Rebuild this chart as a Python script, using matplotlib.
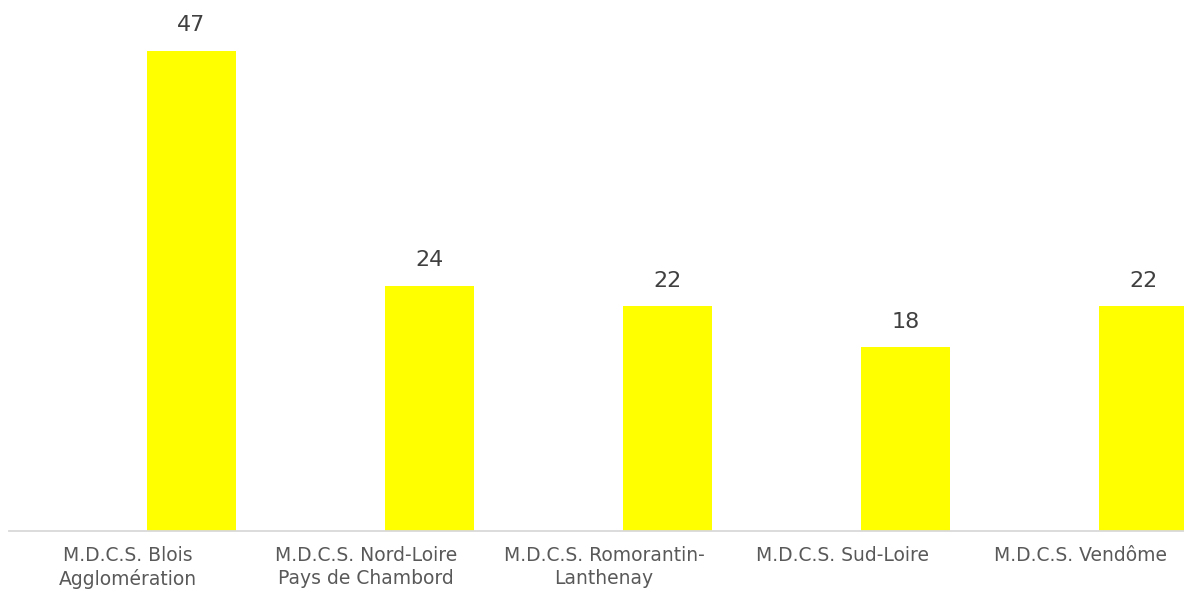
import textwrap
import matplotlib
matplotlib.use("Agg")
import matplotlib.pyplot as plt

categories = ["M.D.C.S. Blois Agglomération",
              "M.D.C.S. Nord-Loire Pays de Chambord",
              "M.D.C.S. Romorantin-Lanthenay",
              "M.D.C.S. Sud-Loire",
              "M.D.C.S. Vendôme"]
values = [47, 24, 22, 18, 22]

plt.rcParams['font.family'] = ['DejaVu Sans']

fig = plt.figure(figsize=(11.84, 5.89), dpi=100)
# plot area runs past the right edge of the picture, as in the original
ax = fig.add_axes([9 / 1184, 58 / 589, 1190 / 1184, 511 / 589])

x = list(range(len(categories)))
bar_x = [i + 0.267 for i in x]
bars = ax.bar(bar_x, values, width=0.374, color="#FFFF00", zorder=2)

for b, v in zip(bars, values):
    ax.annotate(str(v), (b.get_x() + b.get_width() / 2, b.get_height()),
                xytext=(0, 11), textcoords="offset points",
                ha="center", va="bottom", fontsize=16, color="#404040")

ax.set_xlim(-0.5, 4.5)
ax.set_ylim(0, 50)
ax.set_xticks(x)
ax.set_xticklabels([textwrap.fill(c, 20) for c in categories],
                   fontsize=13.5, color="#595959", linespacing=1.25)
ax.tick_params(axis="x", length=0, pad=11)
ax.set_yticks([])

for side in ["top", "right", "left"]:
    ax.spines[side].set_visible(False)
ax.spines["bottom"].set_color("#D9D9D9")
ax.spines["bottom"].set_linewidth(1.3)

fig.savefig("out.png", dpi=100)
